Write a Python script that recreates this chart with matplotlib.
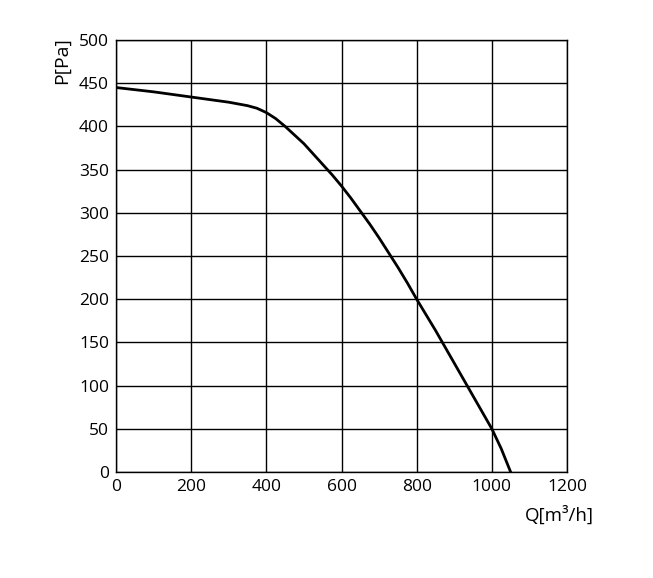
import matplotlib
matplotlib.use('Agg')
import matplotlib.pyplot as plt

# fan curve
flow = [0, 100, 200, 250, 300, 325, 350, 375, 400, 425, 450, 475, 500, 525, 550, 575,
        600, 625, 650, 675, 700, 725, 750, 775, 800, 850, 900, 950, 1000, 1025, 1050]
pressure = [445, 440, 434, 431, 428, 426, 424, 421, 416, 409, 400, 390, 380, 368, 356, 344,
            331, 317, 302, 287, 271, 254, 237, 219, 200, 164, 126, 88, 50, 27, 0]
x_ticks = [0, 200, 400, 600, 800, 1000, 1200]
y_ticks = [0, 50, 100, 150, 200, 250, 300, 350, 400, 450, 500]

plt.rcParams['font.family'] = ['Open Sans', 'DejaVu Sans']

fig = plt.figure(figsize=(6.53, 5.78), dpi=100)
ax = fig.add_axes([116 / 653, 1 - 472 / 578, 451 / 653, 432 / 578])
ax.plot(flow, pressure, color='black', linewidth=2, zorder=3)
ax.set_xlim(0, 1200)
ax.set_ylim(0, 500)
ax.set_xticks(x_ticks)
ax.set_yticks(y_ticks)
ax.grid(True, color='black', linewidth=1)
for s in ax.spines.values():
    s.set_linewidth(1)
ax.tick_params(length=0, labelsize=12.5, pad=5)
fig.text(62 / 653, 1 - 61 / 578, 'P[Pa]', rotation=90, ha='center', va='center', fontsize=14)
fig.text(559 / 653, 1 - 515 / 578, 'Q[m³/h]', ha='center', va='center', fontsize=13.5)

fig.savefig('out.png', dpi=100)
